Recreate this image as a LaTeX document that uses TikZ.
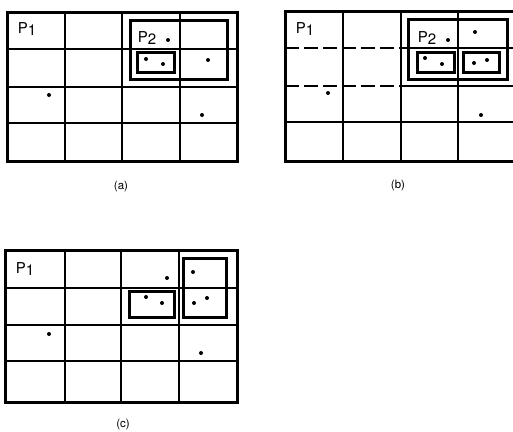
\documentclass[tikz,border=0pt]{standalone}
\usepackage{fontspec}
\setsansfont{TeX Gyre Heros}
\tikzset{
  grid line/.style={line width=1.1pt,black},
  frame/.style={line width=3pt,black},
  cluster/.style={line width=3pt,black},
  pt/.style={circle,fill=black,inner sep=0pt,minimum size=4pt},
  plabel/.style={font=\sffamily\fontsize{15}{15}\selectfont,inner sep=0pt},
  caption/.style={font=\sffamily\fontsize{11.5}{11.5}\selectfont,inner sep=0pt},
}
\newcommand{\Pone}{P\raisebox{-2pt}{1}}
\newcommand{\Ptwo}{P\raisebox{-2pt}{2}}
\begin{document}
\begin{tikzpicture}[x=1pt,y=-1pt]
\useasboundingbox (0,0) rectangle (513,431);
% ---------------- panel (a)
\foreach \x in {65,122,180} \draw[grid line] (\x,12) -- (\x,161);
\foreach \y in {49,87,123} \draw[grid line] (7,\y) -- (237,\y);
\draw[frame] (7,12) rectangle (237,161);
\draw[cluster] (130,20) rectangle (227,79);
\draw[cluster] (137,52) rectangle (174,72);
\foreach \p/\q [count=\i] in {168/40,146/59,163/64,208/60,49/95,202/115}
  \node[pt] (a\i) at (\p,\q) {};
\node[plabel] (aP1) at (27,29) {\Pone};
\node[plabel] (aP2) at (147,38) {\Ptwo};
\node[caption] (capa) at (121,187) {(a)};
% ---------------- panel (b)
\foreach \x in {343,401,458} \draw[grid line] (\x,11) -- (\x,161);
\foreach \y in {48,86} {
  \draw[grid line,dash pattern=on 14pt off 5pt] (285,\y) -- (401,\y);
  \draw[grid line] (401,\y) -- (513,\y);}
\draw[grid line] (285,122) -- (513,122);
\draw[frame] (285,11) rectangle (514,161);
\draw[cluster] (408,19) rectangle (507,79);
\draw[cluster] (417,52) rectangle (454,72);
\draw[cluster] (463,52) rectangle (499,72);
\foreach \p/\q [count=\i] in {448/40,475/32,425/58,442/64,474/63,487/60,328/93,481/115}
  \node[pt] (b\i) at (\p,\q) {};
\node[plabel] (bP1) at (305,29) {\Pone};
\node[plabel] (bP2) at (427,38) {\Ptwo};
\node[caption] (capb) at (398,186) {(b)};
% ---------------- panel (c)
\foreach \x in {65,121,179} \draw[grid line] (\x,250) -- (\x,402);
\foreach \y in {288,325,361} \draw[grid line] (5,\y) -- (237,\y);
\draw[frame] (5,250) rectangle (237,402);
\draw[cluster] (129,291) rectangle (174,317);
\draw[cluster] (183,258) rectangle (226,317);
\foreach \p/\q [count=\i] in {167/278,193/272,146/297,162/303,194/303,207/298,49/334,201/353}
  \node[pt] (c\i) at (\p,\q) {};
\node[plabel] (cP1) at (25,269) {\Pone};
\node[caption] (capc) at (123,425) {(c)};
\end{tikzpicture}
\end{document}
